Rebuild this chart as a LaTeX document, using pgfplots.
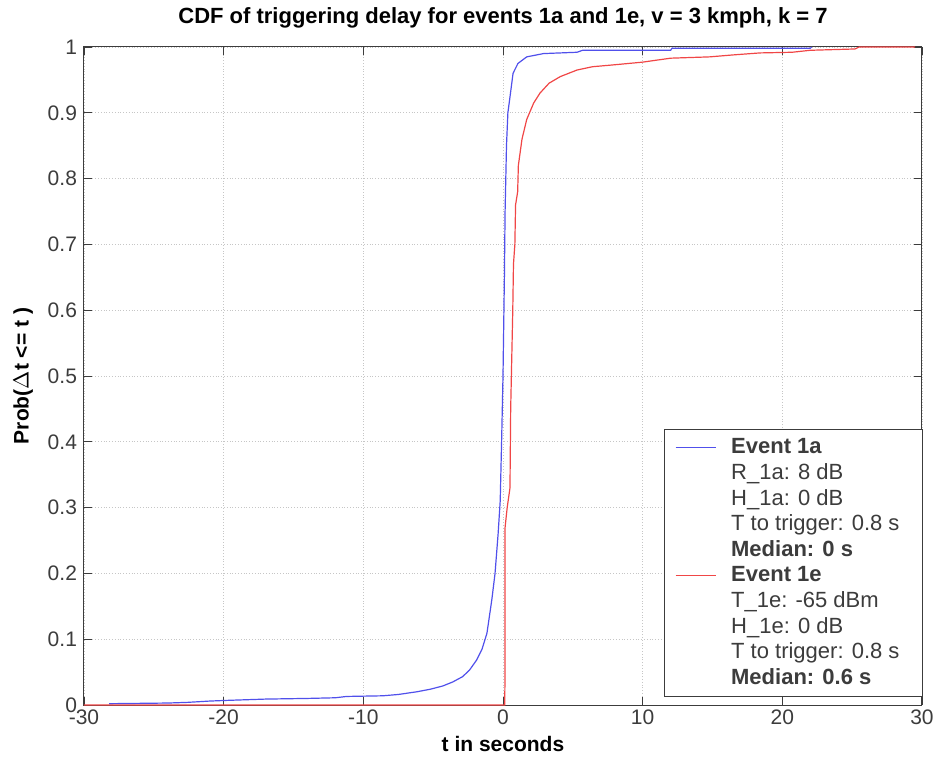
\documentclass[border=0pt]{standalone}
\usepackage{pgfplots}
\pgfplotsset{compat=1.18}
\usepackage{fontspec}
\setmainfont{Liberation Sans}

\definecolor{cdfblue}{RGB}{80,80,235}
\definecolor{cdfred}{RGB}{240,70,70}
\definecolor{axgray}{RGB}{60,60,60}

\begin{document}
\begin{tikzpicture}
\path[use as bounding box] (-42pt,-30.5pt) rectangle (428pt,352.5pt);
\begin{axis}[
  scale only axis,
  width=419pt, height=329pt,
  at={(0,0)}, anchor=south west,
  xmin=-30, xmax=30, ymin=0, ymax=1,
  xtick={-30,-20,...,30},
  ytick={0,0.1,...,1.0},
  /pgf/number format/assume math mode=true,
  yticklabel style={/pgf/number format/.cd, fixed, precision=1},
  ticklabel style={font=\fontsize{10.5}{12}\selectfont, text=axgray},
  xticklabel style={yshift=1pt},
  axis line style={axgray, line width=0.5pt},
  tick style={axgray, line width=0.4pt},
  major tick length=4pt,
  grid=major,
  grid style={densely dotted, gray!45, line width=0.4pt},
  title={CDF of triggering delay for events 1a and 1e, v = 3 kmph, k = 7},
  title style={font=\bfseries\fontsize{11}{13}\selectfont, yshift=0pt},
  xlabel={t in seconds},
  xlabel style={font=\bfseries\fontsize{10.5}{12}\selectfont, yshift=1pt},
  ylabel={Prob($\Delta$t <= t )},
  ylabel style={font=\bfseries\fontsize{10.5}{12}\selectfont, yshift=0.5pt},
  legend style={
    at={(1,0)}, anchor=south east, xshift=0.5pt, yshift=4pt,
    draw=axgray, line width=0.5pt, fill=white,
    font=\fontsize{11}{12.8}\selectfont, text=axgray,
    row sep=-0.6pt, inner xsep=5pt, inner ysep=2.5pt,
    nodes={inner xsep=6.5pt, anchor=west},
    /tikz/every odd column/.append style={column sep=1pt},
  },
  legend image code/.code={\draw[#1, line width=0.6pt] (0pt,0pt) -- (20pt,0pt);},
]
% Event 1a
\addplot[cdfblue, line width=0.6pt] coordinates {
  (-28.2,0.002) (-24,0.003) (-22.6,0.004) (-21,0.006) (-19.8,0.007)
  (-17,0.009) (-14,0.010) (-12,0.011) (-11.2,0.013) (-8.6,0.014)
  (-7.5,0.016) (-6.2,0.020) (-5.2,0.024) (-4.3,0.029) (-3.6,0.035)
  (-2.9,0.043) (-2.4,0.053) (-1.9,0.068) (-1.5,0.085) (-1.15,0.109)
  (-0.8,0.16) (-0.57,0.20) (-0.35,0.26) (-0.2,0.31) (-0.1,0.40)
  (0.0,0.50) (0.1,0.65) (0.15,0.75) (0.25,0.85) (0.35,0.90)
  (0.5,0.924) (0.72,0.96) (1.07,0.975) (1.7,0.985) (2.9,0.99)
  (5.3,0.992) (5.7,0.995) (12,0.995) (12.1,0.998) (22,0.998) (22.1,1.0)
};
\addlegendentry{\textbf{Event 1a}}
\addlegendimage{empty legend}\addlegendentry{R\_1a: 8 dB}
\addlegendimage{empty legend}\addlegendentry{H\_1a: 0 dB}
\addlegendimage{empty legend}\addlegendentry{T to trigger: 0.8 s}
\addlegendimage{empty legend}\addlegendentry{\textbf{Median: 0 s}}
% Event 1e
\addplot[cdfred, line width=0.6pt] coordinates {
  (-30,0) (0.12,0) (0.15,0.05) (0.15,0.27) (0.3,0.30) (0.5,0.33)
  (0.55,0.45) (0.6,0.5) (0.7,0.6) (0.75,0.67) (0.85,0.70) (0.9,0.76)
  (1.05,0.78) (1.1,0.82) (1.36,0.86) (1.7,0.89) (2.2,0.915) (2.65,0.93)
  (3.3,0.945) (4.1,0.955) (5.3,0.965) (6.4,0.97) (8,0.973) (10,0.977)
  (12,0.983) (14.8,0.985) (16.5,0.988) (18.4,0.991) (20.7,0.992)
  (22,0.995) (25.2,0.997) (25.5,1.0) (29.5,1.0)
};
\addlegendentry{\textbf{Event 1e}}
\addlegendimage{empty legend}\addlegendentry{T\_1e: -65 dBm}
\addlegendimage{empty legend}\addlegendentry{H\_1e: 0 dB}
\addlegendimage{empty legend}\addlegendentry{T to trigger: 0.8 s}
\addlegendimage{empty legend}\addlegendentry{\textbf{Median: 0.6 s}}
\end{axis}
\end{tikzpicture}
\end{document}
